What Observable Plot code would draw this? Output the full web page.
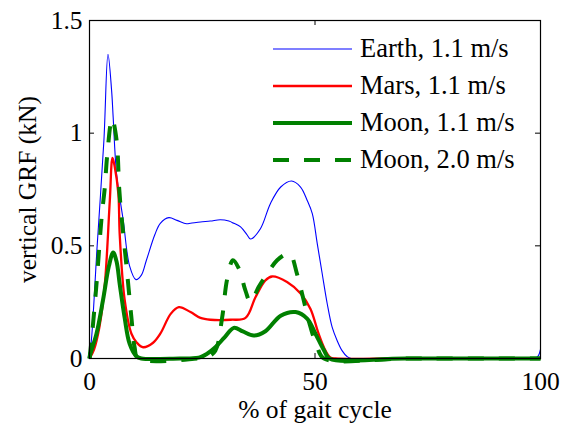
<!DOCTYPE html>
<html>
<head>
<meta charset="utf-8">
<script src="https://cdn.jsdelivr.net/npm/d3@7"></script>
<script src="https://cdn.jsdelivr.net/npm/@observablehq/plot@0.6"></script>
<style>
  html, body { margin: 0; padding: 0; background: #fff; }
  #chart { width: 561px; height: 425px; }
  svg { font-family: "Liberation Serif", "Times New Roman", serif; }
</style>
</head>
<body>
<div id="chart"></div>
<script>
// ---- data ----
const seriesNames = ["Earth, 1.1 m/s", "Mars, 1.1 m/s", "Moon, 1.1 m/s", "Moon, 2.0 m/s"];

const earthX = [0, 0.5, 1.7, 3.2, 4.1, 4.9, 5.25, 6.0, 7.5, 8.9, 10.3, 11.5, 12.6, 14.5, 15.7, 17.6, 19.4, 21.5, 22.4, 24.6, 26.8, 29, 30.9, 32, 33.5, 35, 35.7, 37.9, 40.1, 42.4, 44.8, 46.8, 48.3, 49.4, 50.5, 51.6, 52.7, 53.8, 54.9, 56, 57.1, 58, 70, 90, 99, 99.6, 100];
const earthY = [0, 0.1, 0.5, 0.97, 1.35, 1.19, 1.07, 0.82, 0.61, 0.41, 0.35, 0.37, 0.435, 0.55, 0.6, 0.625, 0.613, 0.598, 0.6, 0.606, 0.61, 0.616, 0.61, 0.6, 0.584, 0.547, 0.53, 0.576, 0.687, 0.761, 0.788, 0.761, 0.70, 0.643, 0.51, 0.376, 0.244, 0.139, 0.08, 0.035, 0.009, 0, 0, 0, 0.003, 0.015, 0.04];

const marsX = [0, 1, 2.2, 3.4, 4.5, 5.1, 5.6, 6.4, 6.7, 7.8, 9.3, 10.5, 11.9, 14.1, 15.7, 18, 19.8, 22.4, 24.6, 26.8, 31.3, 34.6, 36.8, 39, 40.5, 43.8, 46.8, 49, 50.8, 52.3, 53.4, 54.5, 70, 100];
const marsY = [0, 0.04, 0.14, 0.33, 0.70, 0.89, 0.85, 0.73, 0.55, 0.26, 0.11, 0.07, 0.05, 0.07, 0.11, 0.198, 0.228, 0.206, 0.18, 0.172, 0.172, 0.18, 0.272, 0.347, 0.364, 0.339, 0.288, 0.22, 0.11, 0.036, 0.005, 0, 0, 0];

const moon11X = [0, 0.2, 1.55, 3.0, 4.3, 5.25, 6.0, 6.7, 7.8, 8.9, 10.4, 11.5, 20, 22, 24.6, 26, 27.9, 30, 32, 34, 36.4, 39, 42.4, 45.7, 48.3, 50.1, 52, 53.2, 70, 100];
const moon11Y = [0, 0.02, 0.11, 0.26, 0.41, 0.47, 0.43, 0.33, 0.18, 0.065, 0.01, 0, 0, 0, 0.006, 0.02, 0.05, 0.095, 0.136, 0.12, 0.102, 0.121, 0.19, 0.206, 0.176, 0.11, 0.036, 0, 0, 0];

const moon20X = [0, 0.44, 1.55, 2.7, 3.4, 3.9, 5.0, 6.0, 6.6, 7.1, 8.2, 9.3, 10.0, 10.8, 24, 26, 27.9, 29.4, 30.5, 31.8, 33.1, 34.6, 35.7, 37.5, 39.4, 41.6, 43.8, 44.6, 46, 47.5, 49, 50.5, 52, 70, 100];
const moon20Y = [0, 0.08, 0.33, 0.63, 0.76, 0.895, 1.065, 0.97, 0.75, 0.63, 0.41, 0.18, 0.05, 0, 0, 0.005, 0.035, 0.18, 0.35, 0.436, 0.40, 0.30, 0.25, 0.317, 0.376, 0.436, 0.465, 0.462, 0.376, 0.258, 0.14, 0.05, 0, 0, 0];

const xTicks = [0, 50, 100];
const yTicks = [0, 0.5, 1, 1.5];
const xLabel = "% of gait cycle";
const yLabel = "vertical GRF (kN)";

// ---- build table for the library ----
const table = [];
const pushSeries = (name, xs, ys) => xs.forEach((x, i) => table.push({series: name, x, y: ys[i]}));
pushSeries(seriesNames[0], earthX, earthY);
pushSeries(seriesNames[1], marsX, marsY);
pushSeries(seriesNames[2], moon11X, moon11Y);
pushSeries(seriesNames[3], moon20X, moon20Y);
const bySeries = name => table.filter(d => d.series === name);

const styles = [
  {stroke: "#0000ff", strokeWidth: 1.1, dash: null},
  {stroke: "#ff0000", strokeWidth: 2.3, dash: null},
  {stroke: "#008000", strokeWidth: 4, dash: null},
  {stroke: "#008000", strokeWidth: 4, dash: "16,15"}
];

const W = 561, H = 425;
const mL = 89, mR = 21, mT = 20, mB = 67;
const innerW = W - mL - mR, innerH = H - mT - mB;
const tick = 5;
const FONT = "Liberation Serif, Times New Roman, serif";

const chart = Plot.plot({
  width: W,
  height: H,
  marginLeft: mL,
  marginRight: mR,
  marginTop: mT,
  marginBottom: mB,
  style: {fontFamily: FONT, fontSize: "25px", color: "#000", background: "#fff"},
  x: {domain: [0, 100]},
  y: {domain: [0, 1.5]},
  marks: [
    ...seriesNames.map((name, i) => Plot.line(bySeries(name), {
      x: "x", y: "y",
      stroke: styles[i].stroke,
      strokeWidth: styles[i].strokeWidth,
      strokeDasharray: styles[i].dash,
      curve: "catmull-rom",
      strokeLinejoin: "round",
      strokeLinecap: "butt"
    })),
    Plot.frame({stroke: "#000", strokeWidth: 1.2}),
    // inward ticks on all four sides
    Plot.tickX(xTicks, {x: d => d, insetTop: innerH - tick, stroke: "#000"}),
    Plot.tickX(xTicks, {x: d => d, insetBottom: innerH - tick, stroke: "#000"}),
    Plot.tickY(yTicks, {y: d => d, insetRight: innerW - tick, stroke: "#000"}),
    Plot.tickY(yTicks, {y: d => d, insetLeft: innerW - tick, stroke: "#000"}),
    Plot.axisX(xTicks, {tickSize: 0, tickPadding: 13, fontSize: 25.5, label: null, tickFormat: d => String(d)}),
    Plot.axisY(yTicks, {tickSize: 0, tickPadding: 7, fontSize: 25.5, label: null, tickFormat: d => String(d)}),
    Plot.text([xLabel], {text: d => d, frameAnchor: "bottom", lineAnchor: "middle", textAnchor: "middle", dy: 51.5, fontSize: 25.5, fill: "#000"}),
    Plot.text([yLabel], {text: d => d, frameAnchor: "left", lineAnchor: "middle", textAnchor: "middle", dx: -62, rotate: -90, fontSize: 25.5, fill: "#000"})
  ]
});

document.getElementById("chart").appendChild(chart);

// ---- legend inside the axes (top right) ----
const svg = d3.select(chart);
const legend = svg.append("g").attr("class", "legend");
const legendRows = [49, 86, 123, 160];
seriesNames.forEach((name, i) => {
  const g = legend.append("g").attr("transform", `translate(0,${legendRows[i]})`);
  g.append("line")
    .attr("x1", 273).attr("x2", 352).attr("y1", 0).attr("y2", 0)
    .attr("stroke", styles[i].stroke)
    .attr("stroke-width", styles[i].strokeWidth)
    .attr("stroke-dasharray", styles[i].dash);
  g.append("text")
    .attr("x", 360).attr("y", 0).attr("dy", "0.32em")
    .attr("text-anchor", "start")
    .attr("font-family", FONT)
    .attr("font-size", 26.5)
    .attr("fill", "#000")
    .text(name);
});
</script>
</body>
</html>
